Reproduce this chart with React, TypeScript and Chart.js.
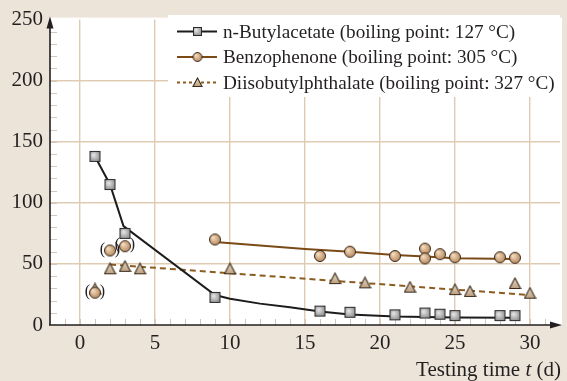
import React, { useEffect, useRef } from "react";
import { Chart, registerables } from "chart.js";
Chart.register(...registerables);

// ---------- data ----------
const xTickValues = [0, 5, 10, 15, 20, 25, 30];
const yTickValues = [0, 50, 100, 150, 200, 250];

const seriesNames = [
  "n-Butylacetate (boiling point: 127 °C)",
  "Benzophenone (boiling point: 305 °C)",
  "Diisobutylphthalate (boiling point: 327 °C)",
];

const butylX = [1, 2, 3, 9, 16, 18, 21, 23, 24, 25, 28, 29];
const butylY = [138, 115, 75, 22.6, 11.4, 10.4, 8.3, 9.8, 8.8, 7.7, 7.7, 7.7];

const benzoX = [9, 16, 18, 21, 23, 23, 24, 25, 28, 29];
const benzoY = [70, 56.5, 60, 56.5, 62.5, 54.5, 58, 55.5, 55.5, 55];
const benzoOutX = [1, 2, 3];
const benzoOutY = [26.5, 61, 64.5];

const dipX = [2, 3, 4, 10, 17, 19, 22, 25, 26, 29, 30];
const dipY = [46, 48, 46, 46, 38, 34.5, 31, 29, 27.5, 34, 26];
const dipOutX = [1];
const dipOutY = [29.5];

const butylFitX = [1, 2, 2.9, 9, 10, 12, 14, 16, 18, 21, 25, 29];
const butylFitY = [138, 115, 81, 24.5, 21.5, 17.5, 14.5, 11, 8.5, 7, 6.2, 6];
const benzoFitX = [9, 12, 15, 18, 21, 23, 25, 29];
const benzoFitY = [68, 65, 62.3, 60, 57.3, 56, 54.7, 54];
const dipFitX = [2, 30];
const dipFitY = [49.5, 24.5];

// ---------- styles ----------
const FONT = '"Liberation Serif", "DejaVu Serif", "Times New Roman", serif';
const BG = "#ece4d9";
const GRID = "#dfcbb2";
const INK = "#231f20";
const BUTYL_LINE = "#1c1c1c";
const BENZO_LINE = "#7a4a17";
const DIP_LINE = "#8c5c1e";

function zip(xs: number[], ys: number[]) {
  return xs.map((x, i) => ({ x, y: ys[i] }));
}

function makeMarker(kind: "square" | "circle" | "triangle", size: number) {
  const c = document.createElement("canvas");
  const s = size + 2;
  c.width = s;
  c.height = s;
  const g = c.getContext("2d")!;
  const m = s / 2;
  if (kind === "square") {
    const gr = g.createRadialGradient(m - 1.5, m - 1.5, 0.5, m, m, size * 0.75);
    gr.addColorStop(0, "#e4e4e4");
    gr.addColorStop(1, "#6c6c6c");
    g.fillStyle = gr;
    g.fillRect(1, 1, size, size);
    g.strokeStyle = "#2a2a2a";
    g.lineWidth = 1;
    g.strokeRect(1.5, 1.5, size - 1, size - 1);
  } else if (kind === "circle") {
    const r = size / 2;
    const gr = g.createRadialGradient(m - r * 0.35, m - r * 0.35, 0.3, m, m, r);
    gr.addColorStop(0, "#f6dfc4");
    gr.addColorStop(1, "#b4855a");
    g.fillStyle = gr;
    g.beginPath();
    g.arc(m, m, r - 0.5, 0, Math.PI * 2);
    g.fill();
    g.strokeStyle = "#3c2a1b";
    g.lineWidth = 1;
    g.stroke();
  } else {
    const gr = g.createLinearGradient(0, 1, 0, s - 1);
    gr.addColorStop(0, "#eadbc6");
    gr.addColorStop(1, "#b99d7d");
    g.fillStyle = gr;
    g.beginPath();
    g.moveTo(m, 1);
    g.lineTo(s - 1, s - 1.5);
    g.lineTo(1, s - 1.5);
    g.closePath();
    g.fill();
    g.strokeStyle = "#3a2a1a";
    g.lineWidth = 1.1;
    g.lineJoin = "miter";
    g.stroke();
  }
  return c;
}

export default function App() {
  const ref = useRef<HTMLCanvasElement | null>(null);

  useEffect(() => {
    document.body.style.margin = "0";
    const canvas = ref.current!;
    const sq = makeMarker("square", 11);
    const ci = makeMarker("circle", 12);
    const tr = makeMarker("triangle", 11);
    const sqL = makeMarker("square", 9);
    const ciL = makeMarker("circle", 10);
    const trL = makeMarker("triangle", 9);

    const pointDs = (data: any[], img: HTMLCanvasElement) => ({
      data,
      showLine: false,
      pointStyle: img,
      pointRadius: 6,
      borderWidth: 0,
    });
    const lineDs = (data: any[], color: string, dash: number[] = []) => ({
      data,
      borderColor: color,
      borderWidth: 2,
      borderDash: dash,
      pointRadius: 0,
      tension: 0,
      fill: false,
    });

    const decor = {
      id: "decor",
      beforeDraw(chart: any) {
        const { ctx, chartArea: a, width, height } = chart;
        ctx.save();
        ctx.fillStyle = BG;
        ctx.fillRect(0, 0, width, height);
        ctx.fillStyle = "#ffffff";
        ctx.fillRect(a.left, a.top - 2, a.right - a.left + 2, a.bottom - a.top + 2);
        ctx.restore();
      },
      beforeDatasetsDraw(chart: any) {
        const { ctx, chartArea: a, scales } = chart;
        const xs = scales.x;
        const ys = scales.y;
        ctx.save();
        // minor ticks
        ctx.strokeStyle = "#cfc6bd";
        ctx.lineWidth = 1;
        for (let v = 10; v < 250; v += 10) {
          const y = Math.round(ys.getPixelForValue(v)) + 0.5;
          ctx.beginPath();
          ctx.moveTo(a.left, y);
          ctx.lineTo(a.left + 7, y);
          ctx.stroke();
        }
        for (let v = -1; v <= 31; v += 1) {
          const x = Math.round(xs.getPixelForValue(v)) + 0.5;
          ctx.beginPath();
          ctx.moveTo(x, a.bottom);
          ctx.lineTo(x, a.bottom - 6);
          ctx.stroke();
        }
        // legend box
        ctx.fillStyle = "#ffffff";
        ctx.fillRect(168, 15, 392, 82);
        const rows = [
          { y: 31.5, color: BUTYL_LINE, dash: [] as number[], img: sqL },
          { y: 57, color: BENZO_LINE, dash: [] as number[], img: ciL },
          { y: 82.5, color: DIP_LINE, dash: [3, 3], img: trL },
        ];
        rows.forEach((r, i) => {
          ctx.strokeStyle = r.color;
          ctx.lineWidth = 2;
          ctx.setLineDash(r.dash);
          ctx.beginPath();
          ctx.moveTo(177, r.y);
          ctx.lineTo(217, r.y);
          ctx.stroke();
          ctx.setLineDash([]);
          ctx.drawImage(r.img, 197.5 - r.img.width / 2, r.y - r.img.height / 2);
          ctx.fillStyle = INK;
          ctx.font = `19.2px ${FONT}`;
          ctx.textBaseline = "middle";
          ctx.textAlign = "left";
          ctx.fillText(seriesNames[i], 223, r.y + 1);
        });
        ctx.restore();
      },
      afterDatasetsDraw(chart: any) {
        const { ctx, chartArea: a, scales } = chart;
        const xs = scales.x;
        const ys = scales.y;
        ctx.save();
        // parentheses around questionable points
        ctx.fillStyle = INK;
        ctx.font = `16px ${FONT}`;
        ctx.textBaseline = "middle";
        ctx.textAlign = "center";
        benzoOutX.forEach((x, i) => {
          const px = xs.getPixelForValue(x);
          const py = ys.getPixelForValue(benzoOutY[i]) - 1;
          ctx.fillText("(", px - 7.5, py);
          ctx.fillText(")", px + 7.5, py);
        });
        // axes
        ctx.strokeStyle = INK;
        ctx.fillStyle = INK;
        ctx.lineWidth = 1.6;
        ctx.beginPath();
        ctx.moveTo(a.left, a.bottom);
        ctx.lineTo(a.left, a.top);
        ctx.moveTo(a.left - 1, a.bottom);
        ctx.lineTo(a.right - 2, a.bottom);
        ctx.stroke();
        ctx.beginPath();
        ctx.moveTo(a.left, a.top - 3);
        ctx.lineTo(a.left - 3.5, a.top + 9);
        ctx.lineTo(a.left + 3.5, a.top + 9);
        ctx.closePath();
        ctx.fill();
        ctx.beginPath();
        ctx.moveTo(a.right + 2, a.bottom);
        ctx.lineTo(a.right - 10, a.bottom - 3.5);
        ctx.lineTo(a.right - 10, a.bottom + 3.5);
        ctx.closePath();
        ctx.fill();
        // axis title
        ctx.textBaseline = "alphabetic";
        ctx.textAlign = "left";
        const parts = [
          { t: "Testing time ", f: `21px ${FONT}` },
          { t: "t", f: `italic 21px ${FONT}` },
          { t: " (d)", f: `21px ${FONT}` },
        ];
        let total = 0;
        parts.forEach((p) => {
          ctx.font = p.f;
          total += ctx.measureText(p.t).width;
        });
        let x = 561 - total;
        parts.forEach((p) => {
          ctx.font = p.f;
          ctx.fillText(p.t, x, 376);
          x += ctx.measureText(p.t).width;
        });
        ctx.restore();
      },
    };

    const chart = new Chart(canvas, {
      type: "line",
      data: {
        datasets: [
          pointDs(zip(benzoOutX, benzoOutY), ci),
          pointDs(zip(benzoX, benzoY), ci),
          pointDs(zip(butylX, butylY), sq),
          pointDs(zip(dipOutX, dipOutY), tr),
          pointDs(zip(dipX, dipY), tr),
          lineDs(zip(butylFitX, butylFitY), BUTYL_LINE),
          lineDs(zip(benzoFitX, benzoFitY), BENZO_LINE),
          lineDs(zip(dipFitX, dipFitY), DIP_LINE, [6, 4]),
        ] as any,
      },
      options: {
        responsive: false,
        animation: false,
        events: [],
        layout: { padding: { top: 12, right: 7, left: 0, bottom: 0 } },
        plugins: { legend: { display: false }, tooltip: { enabled: false } },
        scales: {
          x: {
            type: "linear",
            min: -2,
            max: 32,
            afterBuildTicks: (s: any) => {
              s.ticks = xTickValues.map((v) => ({ value: v }));
            },
            afterFit: (s: any) => {
              s.height = 56;
            },
            border: { display: false },
            grid: { color: GRID, lineWidth: 1.4, drawTicks: false },
            ticks: {
              padding: 6,
              color: INK,
              maxRotation: 0,
              font: { family: FONT, size: 21 },
              callback: (v: any) => String(v),
            },
          },
          y: {
            type: "linear",
            min: 0,
            max: 250,
            afterBuildTicks: (s: any) => {
              s.ticks = yTickValues.map((v) => ({ value: v }));
            },
            afterFit: (s: any) => {
              s.width = 50;
            },
            border: { display: false },
            grid: {
              color: (c: any) =>
                c.tick && (c.tick.value === 0 || c.tick.value === 250) ? "rgba(0,0,0,0)" : GRID,
              lineWidth: 1.4,
              drawTicks: false,
            },
            ticks: {
              padding: 7,
              color: INK,
              font: { family: FONT, size: 21 },
              callback: (v: any) => String(v),
            },
          },
        },
      } as any,
      plugins: [decor],
    });
    return () => chart.destroy();
  }, []);

  return (
    <div style={{ width: 567, height: 381, background: BG }}>
      <canvas ref={ref} width={567} height={381} style={{ display: "block" }} />
    </div>
  );
}
